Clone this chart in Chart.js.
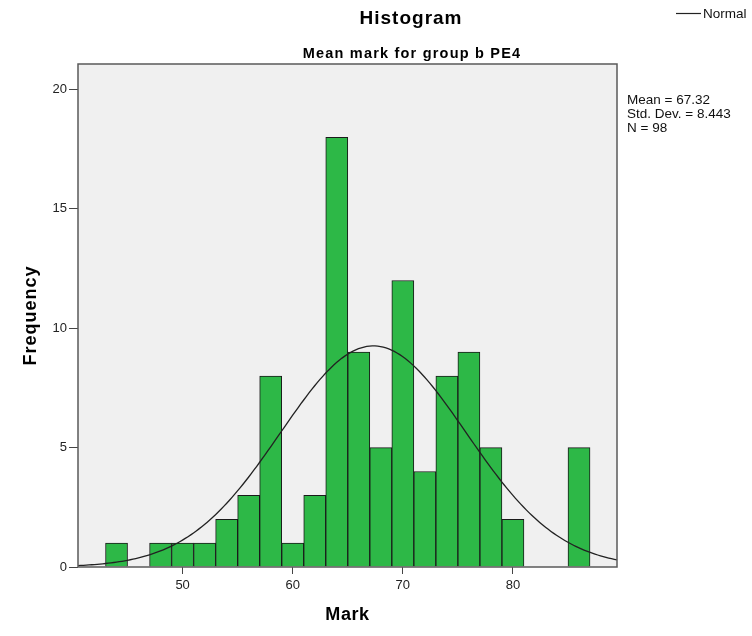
<!DOCTYPE html>
<html>
<head>
<meta charset="utf-8">
<script src="https://cdn.jsdelivr.net/npm/chart.js@4/dist/chart.umd.min.js"></script>
<style>
  html, body { margin: 0; padding: 0; background: #ffffff; }
  #wrap { width: 752px; height: 636px; position: relative; }
</style>
</head>
<body>
<div id="wrap"><canvas id="c" width="752" height="636"></canvas></div>
<script>
// ---- data ----
const BIN_STARTS = [43, 45, 47, 49, 51, 53, 55, 57, 59, 61, 63, 65, 67, 69, 71, 73, 75, 77, 79, 81, 83, 85];
const BIN_WIDTH = 2;
const COUNTS = [1, 0, 1, 1, 1, 2, 3, 8, 1, 3, 18, 9, 5, 12, 4, 8, 9, 5, 2, 0, 0, 5];
const X_TICKS = [50, 60, 70, 80];
const Y_TICKS = [0, 5, 10, 15, 20];
// statistics printed on the chart (the "Normal" curve is the fitted normal with these)
const MEAN = 67.32;
const SD = 8.443;
const N = 98;
const TITLE = 'Histogram';
const SUBTITLE = 'Mean mark for group b PE4';
const X_TITLE = 'Mark';
const Y_TITLE = 'Frequency';
const STATS_LINES = ['Mean = 67.32', 'Std. Dev. = 8.443', 'N = 98'];
const LEGEND_LABEL = 'Normal';
const X_MIN = 40.5, X_MAX = 89.45, Y_MIN = 0, Y_MAX = 21.07;

// bars built from the arrays above
const barData = BIN_STARTS.map((s, i) => ({ x: s + BIN_WIDTH / 2, y: COUNTS[i] === 0 ? null : COUNTS[i] }));
// fitted normal curve scaled to counts (N * binWidth * pdf)
const curveData = [];
for (let k = 0; k <= 196; k++) {
  const x = X_MIN + (X_MAX - X_MIN) * k / 196;
  const z = (x - MEAN) / SD;
  curveData.push({ x: x, y: N * BIN_WIDTH * Math.exp(-0.5 * z * z) / (SD * Math.sqrt(2 * Math.PI)) });
}

const FONT = '"Liberation Sans", Arial, sans-serif';

const decor = {
  id: 'decor',
  beforeDraw(chart) {
    const { ctx, chartArea: a } = chart;
    ctx.save();
    ctx.fillStyle = '#f0f0f0';
    ctx.fillRect(a.left, a.top, a.right - a.left, a.bottom - a.top);
    ctx.restore();
  },
  afterDraw(chart) {
    const { ctx, chartArea: a } = chart;
    ctx.save();
    // frame
    ctx.strokeStyle = '#5a5a5a';
    ctx.lineWidth = 1.5;
    ctx.strokeRect(a.left, a.top, a.right - a.left, a.bottom - a.top);

    ctx.fillStyle = '#000';
    ctx.textAlign = 'center';
    ctx.textBaseline = 'alphabetic';
    // title
    ctx.font = 'bold 19px ' + FONT;
    ctx.letterSpacing = '1px';
    ctx.fillText(TITLE, 411, 24);
    // subtitle
    ctx.font = 'bold 14.5px ' + FONT;
    ctx.letterSpacing = '1.2px';
    ctx.fillText(SUBTITLE, 412, 58);
    // x axis title
    ctx.font = 'bold 18px ' + FONT;
    ctx.letterSpacing = '0.6px';
    ctx.fillText(X_TITLE, (a.left + a.right) / 2, 620);
    // y axis title
    ctx.save();
    ctx.translate(36, (a.top + a.bottom) / 2);
    ctx.rotate(-Math.PI / 2);
    ctx.letterSpacing = '1px';
    ctx.fillText(Y_TITLE, 0, 0);
    ctx.restore();

    // stats
    ctx.letterSpacing = '0px';
    ctx.font = '13.5px ' + FONT;
    ctx.textAlign = 'left';
    ctx.fillStyle = '#111';
    STATS_LINES.forEach((t, i) => ctx.fillText(t, a.right + 10, 104 + i * 14));

    // legend
    ctx.strokeStyle = '#222';
    ctx.lineWidth = 1.2;
    ctx.beginPath();
    ctx.moveTo(676, 13.5);
    ctx.lineTo(701, 13.5);
    ctx.stroke();
    ctx.fillText(LEGEND_LABEL, 703, 18);
    ctx.restore();
  }
};

new Chart(document.getElementById('c'), {
  data: {
    datasets: [
      {
        type: 'line',
        label: LEGEND_LABEL,
        data: curveData,
        borderColor: '#222',
        borderWidth: 1.3,
        pointRadius: 0,
        tension: 0,
        fill: false,
        order: 0
      },
      {
        type: 'bar',
        label: 'Frequency',
        data: barData,
        backgroundColor: '#2db847',
        borderColor: '#1a1a1a',
        borderWidth: 1,
        barPercentage: 1,
        categoryPercentage: 1,
        grouped: false,
        order: 1
      }
    ]
  },
  options: {
    responsive: false,
    animation: false,
    devicePixelRatio: 1,
    layout: { padding: { left: 0, right: 135, top: 64, bottom: 0 } },
    plugins: {
      legend: { display: false },
      title: { display: false },
      tooltip: { enabled: false }
    },
    scales: {
      x: {
        type: 'linear',
        min: X_MIN,
        max: X_MAX,
        offset: false,
        afterBuildTicks: s => { s.ticks = X_TICKS.map(v => ({ value: v })); },
        afterFit: s => { s.height = 69; },
        border: { display: false },
        grid: { offset: false, drawOnChartArea: false, drawTicks: true, tickLength: 7, color: '#444', lineWidth: 1 },
        ticks: { color: '#222', font: { family: FONT, size: 13 }, padding: 4, maxRotation: 0 }
      },
      y: {
        type: 'linear',
        min: Y_MIN,
        max: Y_MAX,
        afterBuildTicks: s => { s.ticks = Y_TICKS.map(v => ({ value: v })); },
        afterFit: s => { s.width = 78; },
        border: { display: false },
        grid: { drawOnChartArea: false, drawTicks: true, tickLength: 9, color: '#444', lineWidth: 1 },
        ticks: { color: '#222', font: { family: FONT, size: 13 }, padding: 2 }
      }
    }
  },
  plugins: [decor]
});
</script>
</body>
</html>
